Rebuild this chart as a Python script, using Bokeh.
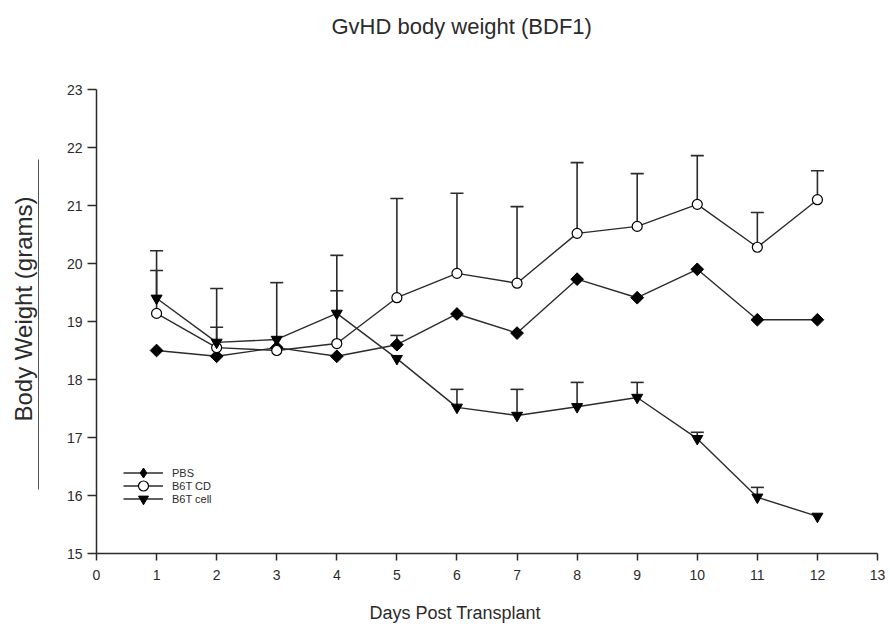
import numpy as np
from bokeh.plotting import figure
from bokeh.models import (LinearAxis, FixedTicker, Whisker, TeeHead, ColumnDataSource,
                          Legend, LegendItem, Range1d, Title)
from bokeh.embed import file_html
from bokeh.resources import INLINE

# ---- data ----
days = [1, 2, 3, 4, 5, 6, 7, 8, 9, 10, 11, 12]
pbs = [18.50, 18.40, 18.55, 18.40, 18.60, 19.13, 18.80, 19.73, 19.41, 19.90, 19.03, 19.03]
pbs_sem = [0, 0, 0, 0, 0.16, 0, 0, 0, 0, 0, 0, 0]
b6tcd = [19.14, 18.55, 18.50, 18.62, 19.41, 19.83, 19.66, 20.52, 20.64, 21.02, 20.28, 21.10]
b6tcd_sem = [1.08, 1.02, 1.17, 1.52, 1.71, 1.38, 1.32, 1.22, 0.91, 0.84, 0.60, 0.50]
b6tcell = [19.40, 18.64, 18.69, 19.14, 18.36, 17.52, 17.38, 17.53, 17.69, 16.98, 15.97, 15.64]
b6tcell_sem = [0.48, 0.26, 0, 0.39, 0, 0.31, 0.45, 0.42, 0.26, 0.11, 0.17, 0]
series_names = ["PBS", "B6T CD", "B6T cell"]
x_ticks = list(range(0, 14))
y_ticks = list(range(15, 24))
title_text = "GvHD body weight (BDF1)"
x_label = "Days Post Transplant"
y_label = "Body Weight (grams)"

FONT = "Liberation Sans"
INK = "#2b2b2b"

p = figure(width=890, height=631, x_range=Range1d(0, 13), y_range=Range1d(15, 23),
           output_backend="svg", toolbar_location=None,
           min_border_left=96, min_border_right=13, min_border_top=89, min_border_bottom=78)
p.outline_line_color = None
p.xgrid.visible = False
p.ygrid.visible = False
p.title.text = ""

for ax in (p.xaxis[0], p.yaxis[0]):
    ax.axis_line_color = INK
    ax.axis_line_width = 1.5
    ax.major_tick_line_color = INK
    ax.major_tick_line_width = 1.5
    ax.major_tick_in = 0
    ax.minor_tick_out = 0
    ax.minor_tick_in = 0
    ax.major_label_text_font = FONT
    ax.major_label_text_font_size = "14px"
    ax.major_label_text_color = INK
p.xaxis[0].ticker = FixedTicker(ticks=x_ticks)
p.yaxis[0].ticker = FixedTicker(ticks=y_ticks)
p.xaxis[0].major_tick_out = 7
p.yaxis[0].major_tick_out = 9
p.xaxis[0].major_label_standoff = 9
p.yaxis[0].major_label_standoff = 5


def spacer_axis(gap):
    """Invisible, empty axis that only reserves `gap` pixels in a side panel."""
    return LinearAxis(ticker=FixedTicker(ticks=[]), axis_line_color=None,
                      major_tick_out=0, minor_tick_out=0,
                      axis_label="\u00a0", axis_label_text_font_size="1px",
                      axis_label_standoff=gap)

# title: spacer above the frame, then a left-aligned Title with an offset
p.add_layout(spacer_axis(47), "above")
p.add_layout(Title(text=title_text, text_font=FONT, text_font_size="22px",
                   text_font_style="normal", text_color=INK, align="left",
                   offset=235, standoff=0), "above")

# x label: spacer below the x axis, then a Title
p.add_layout(spacer_axis(14), "below")
p.add_layout(Title(text=x_label, text_font=FONT, text_font_size="18px",
                   text_font_style="normal", text_color=INK, align="left",
                   offset=273, standoff=0), "below")

# y label: spacer, underline rule (bounded bare axis), then a rotated Title
p.add_layout(spacer_axis(21), "left")
under = LinearAxis(ticker=FixedTicker(ticks=[]), major_tick_out=0, minor_tick_out=0,
                   bounds=(16.1, 21.8), axis_line_color="#555555", axis_line_width=1)
p.add_layout(under, "left")
p.add_layout(Title(text=y_label, text_font=FONT, text_font_size="24px",
                   text_font_style="normal", text_color=INK, align="left",
                   offset=132, standoff=4), "left")

# error bars (upper only)
def add_err(vals, sems):
    xs = [d for d, s in zip(days, sems) if s > 0]
    lo = [v for v, s in zip(vals, sems) if s > 0]
    hi = [v + s for v, s in zip(vals, sems) if s > 0]
    src = ColumnDataSource(dict(x=xs, lo=lo, hi=hi))
    w = Whisker(base="x", lower="lo", upper="hi", source=src,
                line_color=INK, line_width=1.6,
                upper_head=TeeHead(size=13, line_color=INK, line_width=1.6),
                lower_head=None, level="underlay")
    p.add_layout(w)

add_err(pbs, pbs_sem)
add_err(b6tcd, b6tcd_sem)
add_err(b6tcell, b6tcell_sem)

l1 = p.line(days, pbs, line_color=INK, line_width=1.4)
m1_key = p.scatter(days, pbs, marker="diamond", size=10,
                   fill_color="black", line_color="black")
m1 = p.scatter(days, pbs, marker="square", angle=np.pi / 4, size=9,
               fill_color="black", line_color="black")
l2 = p.line(days, b6tcd, line_color=INK, line_width=1.4)
m2 = p.scatter(days, b6tcd, marker="circle", size=10, fill_color="white",
               line_color="black", line_width=1.2)
l3 = p.line(days, b6tcell, line_color=INK, line_width=1.4)
m3 = p.scatter(days, b6tcell, marker="inverted_triangle", size=11,
               fill_color="black", line_color="black")

# one legend per row so rows can be packed tighter than the key glyph height
rows = [(series_names[0], [l1, m1_key], 68), (series_names[1], [l2, m2], 55),
        (series_names[2], [l3, m3], 42)]
for name, rends, yoff in rows:
    lg = Legend(items=[LegendItem(label=name, renderers=rends)], location=(27, yoff),
                padding=0, margin=0, spacing=0, glyph_width=40, glyph_height=25,
                label_height=12, label_standoff=9, label_text_font=FONT,
                label_text_font_size="11px", label_text_color=INK,
                border_line_color=None, background_fill_alpha=0)
    p.add_layout(lg)

open("out.html", "w").write(file_html(p, INLINE))
